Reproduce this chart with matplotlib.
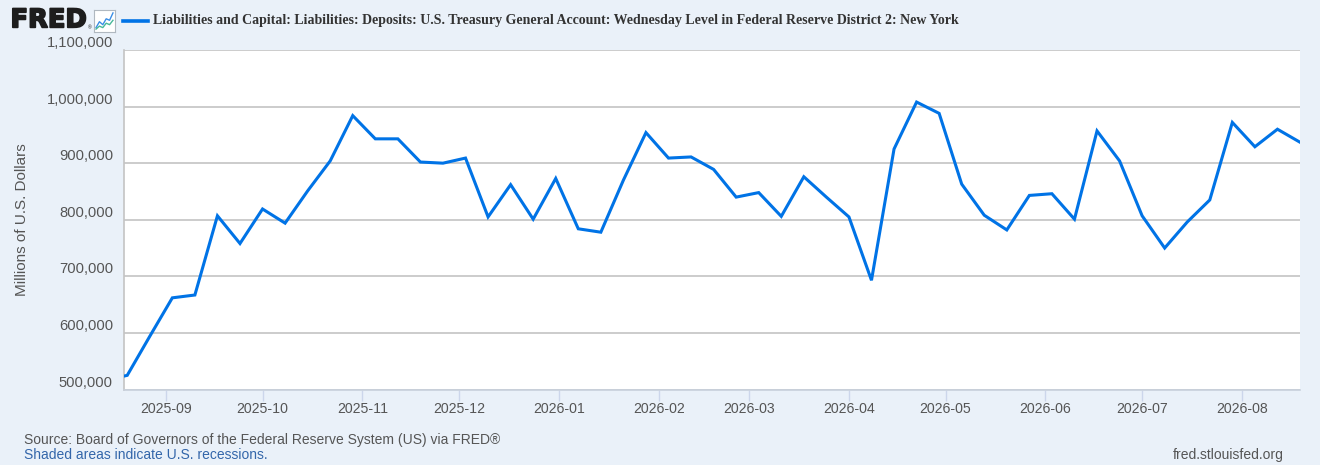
import matplotlib
matplotlib.use('Agg')
import matplotlib.pyplot as plt
import matplotlib.dates as mdates
import matplotlib.patheffects as pe
from matplotlib.lines import Line2D
import pandas as pd

# ---- data (millions of U.S. dollars, Wednesday levels) ----
start_date = '2025-08-13'
end_date = '2026-08-19'
values = [516000, 525000, 594000, 662000, 667000, 807000, 758000, 819000, 794000,
          851000, 904000, 984000, 943000, 943000, 902000, 900000, 909000, 805000,
          862000, 801000, 873000, 784000, 778000, 870000, 954000, 909000, 911000,
          889000, 840000, 848000, 806000, 876000, 840000, 805000, 693000, 925000,
          1008000, 988000, 863000, 808000, 782000, 843000, 846000, 801000, 957000,
          904000, 807000, 750000, 796000, 835000, 972000, 929000, 960000, 937000]
y_ticks = [500000, 600000, 700000, 800000, 900000, 1000000, 1100000]
x_tick_dates = pd.date_range('2025-09-01', '2026-08-01', freq='MS')
x_range = ('2025-08-19', '2026-08-19')

title = ("Liabilities and Capital: Liabilities: Deposits: U.S. Treasury General Account: "
         "Wednesday Level in Federal Reserve District 2: New York")
y_label = "Millions of U.S. Dollars"
source = "Source: Board of Governors of the Federal Reserve System (US) via FRED\u00ae"
shaded = "Shaded areas indicate U.S. recessions."
site = "fred.stlouisfed.org"

dates = pd.date_range(start_date, end_date, freq='7D')

# ---- style ----
W, H = 1320, 465
BG = '#eaf1f9'
LINE = '#0073e6'
GRID = '#c4c4c4'
TXT = '#555555'
SANS = ['Liberation Sans', 'DejaVu Sans']
plt.rcParams['font.family'] = SANS

fig = plt.figure(figsize=(W / 100, H / 100), dpi=100, facecolor=BG)

def fx(px):
    return px / W

def fy(py):
    return 1 - py / H

ax = fig.add_axes([fx(124), fy(389.5), fx(1300) - fx(124), fy(50) - fy(389.5)])
ax.set_facecolor('white')
ax.plot(dates, values, color=LINE, lw=2.2, solid_joinstyle='miter', clip_on=True, zorder=3)
ax.set_xlim(pd.Timestamp(x_range[0]), pd.Timestamp(x_range[1]))
ax.set_ylim(y_ticks[0], y_ticks[-1])

ax.set_yticks(y_ticks)
ax.set_yticklabels([f"{v:,}" for v in y_ticks], va='bottom')
ax.tick_params(axis='y', length=0, pad=8, labelsize=10.6, labelcolor=TXT)
ax.grid(axis='y', color=GRID, lw=1.2, zorder=1)

ax.set_xticks(x_tick_dates)
ax.xaxis.set_major_formatter(mdates.DateFormatter('%Y-%m'))
ax.tick_params(axis='x', length=8, width=1, color='#ccd6eb', pad=1,
               labelsize=10.2, labelcolor=TXT)

for s in ['top', 'right']:
    ax.spines[s].set_visible(False)
ax.spines['left'].set_color(GRID)
ax.spines['left'].set_linewidth(1.2)
ax.spines['bottom'].set_color('#c8d0dc')
ax.spines['bottom'].set_linewidth(1.2)

fig.text(fx(22), fy(220), y_label, rotation=90, ha='center', va='center',
         fontsize=11, color=TXT)

# ---- header ----
logo = fig.text(fx(10.5), fy(27.3), "FRED", ha='left', va='baseline', fontsize=18,
                fontweight='bold', color='#1d1d1d', family=['DejaVu Sans'],
                path_effects=[pe.withStroke(linewidth=1.3, foreground='#1d1d1d')])
fig.text(fx(87.5), fy(28), "\u00ae", ha='left', va='center', fontsize=3.5, color='#1d1d1d')
icon = fig.add_axes([fx(94), fy(32), fx(115) - fx(94), fy(10) - fy(32)])
icon.set_xticks([]); icon.set_yticks([])
icon.set_facecolor('white')
for s in icon.spines.values():
    s.set_color('#b0b8c0'); s.set_linewidth(0.8)
icon.plot([0, 1, 2, 3, 4, 5], [1, 3, 2, 4, 3.5, 6], color='#3a8ee6', lw=1.0)
icon.plot([0, 1, 2, 3, 4, 5], [0.5, 1.5, 1, 2.5, 2, 3.5], color='#48b89a', lw=1.0)
icon.set_xlim(-0.6, 5.6); icon.set_ylim(-0.5, 7)

fig.add_artist(Line2D([fx(123), fx(148)], [fy(21), fy(21)], color=LINE, lw=2.6))
ttl = fig.text(fx(153), fy(20.5), title, ha='left', va='center', fontsize=9.5,
               fontweight='bold', color='#333333', family=['Liberation Serif', 'DejaVu Serif'])

# ---- footer ----
src = fig.text(fx(24), fy(440), source, ha='left', va='center', fontsize=10, color=TXT)
shd = fig.text(fx(24), fy(455), shaded, ha='left', va='center', fontsize=10, color='#3366aa')
st = fig.text(fx(1284), fy(455), site, ha='right', va='center', fontsize=10, color=TXT)

# fit text widths to the reference layout
fig.canvas.draw()
r = fig.canvas.get_renderer()

def fit(t, target_px):
    w = t.get_window_extent(r).width
    t.set_fontsize(t.get_fontsize() * target_px / w)

fit(logo, 76)
fit(ttl, 809)
fit(src, 477)
fit(shd, 244)
fit(st, 111)

fig.savefig('out.png', dpi=100, facecolor=BG)
